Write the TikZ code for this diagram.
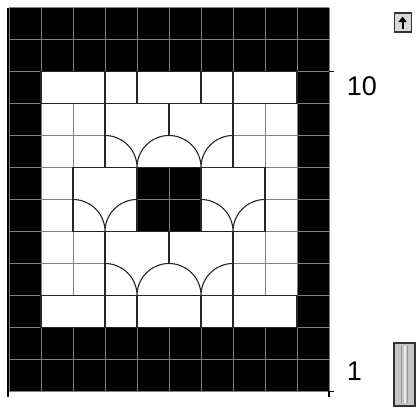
\documentclass[tikz,border=0pt]{standalone}
\usepackage{fontspec}
\setmainfont{Liberation Sans}
\usetikzlibrary{arrows.meta, positioning}

\begin{document}
\begin{tikzpicture}[
        x=32pt,
        y=-32pt,
        gridLine/.style={
            draw=gray,
            line width=0.9pt
        },
        wallLine/.style={
            draw=black!85,
            line width=1.2pt
        },
        archLine/.style={
            draw=black!85,
            line width=1.1pt
        },
        axisLine/.style={
            draw=black,
            line width=1.1pt
        },
        rowLabel/.style={
            font=\fontsize{27}{27}\selectfont,
            inner sep=0pt,
            anchor=west
        },
        upKeyBox/.style={
            draw=black!80,
            fill=gray!30,
            line width=1.2pt,
            minimum width=17pt,
            minimum height=19pt,
            inner sep=0pt
        },
        sliderBox/.style={
            draw=black!80,
            fill=gray!45,
            line width=1.2pt,
            minimum width=21pt,
            minimum height=63pt,
            inner sep=0pt
        }
    ]

        % Fixed page size
        \useasboundingbox (-0.28125,-0.234375) rectangle (12.75,12.578125);

        % Black cells
        \fill (0,0) rectangle (10,2);
        \fill (0,10) rectangle (10,12);
        \fill (0,2) rectangle (1,10);
        \fill (9,2) rectangle (10,10);
        \fill (4,5) rectangle (6,7);

        % Grid lines over the frame
        \foreach \c in {0,...,10}
        {
            \draw[gridLine] (\c,0) -- (\c,2);
            \draw[gridLine] (\c,10) -- (\c,12);
        }
        \foreach \r in {0,...,12}
        {
            \draw[gridLine] (0,\r) -- (1,\r);
            \draw[gridLine] (9,\r) -- (10,\r);
        }
        \foreach \r in {0,1,2,10,11,12}
            \draw[gridLine] (1,\r) -- (9,\r);
        \draw[gridLine] (0,0) -- (0,12);
        \draw[gridLine] (1,2) -- (1,10);
        \draw[gridLine] (9,2) -- (9,10);
        \draw[gridLine] (10,0) -- (10,12);

        % Grid lines in the centre block
        \draw[gridLine] (5,5) -- (5,7);
        \draw[gridLine] (4,6) -- (6,6);

        % Light lines in the side strips
        \foreach \c in {2,8}
        {
            \draw[gridLine] (\c,3) -- (\c,5);
            \draw[gridLine] (\c,7) -- (\c,9);
        }
        \foreach \r in {5,6,7}
        {
            \draw[gridLine] (1,\r) -- (2,\r);
            \draw[gridLine] (8,\r) -- (9,\r);
        }
        \draw[gridLine] (1,4) -- (3,4);
        \draw[gridLine] (1,8) -- (3,8);
        \draw[gridLine] (7,4) -- (9,4);
        \draw[gridLine] (7,8) -- (9,8);

        % Region borders
        \draw[wallLine] (1,2) rectangle (9,3);
        \draw[wallLine] (1,9) rectangle (9,10);
        \foreach \c in {3,4,6,7}
        {
            \draw[wallLine] (\c,2) -- (\c,3);
            \draw[wallLine] (\c,9) -- (\c,10);
        }
        \foreach \c in {3,7}
        {
            \draw[wallLine] (\c,3) -- (\c,5);
            \draw[wallLine] (\c,7) -- (\c,9);
        }
        \draw[wallLine] (5,3) -- (5,4);
        \draw[wallLine] (5,7) -- (5,8);
        \draw[wallLine] (2,5) rectangle (8,7);
        \draw[wallLine] (4,5) -- (4,7);
        \draw[wallLine] (6,5) -- (6,7);

        % Domed arches
        \foreach \r in {4,8}
        {
            \draw[archLine] (3,\r)
                arc[start angle=-90, end angle=0, radius=1]
                arc[start angle=180, end angle=360, radius=1]
                arc[start angle=180, end angle=270, radius=1];
        }
        \foreach \c in {2,6}
        {
            \draw[archLine] (\c,6)
                arc[start angle=-90, end angle=0, radius=1]
                arc[start angle=180, end angle=270, radius=1];
        }

        % Axis lines and ticks
        \coordinate (axisTop) at (-0.03,0);
        \coordinate (axisFoot) at (-0.03,12.17);
        \draw[axisLine] (axisTop) -- (axisFoot);

        \coordinate (tickTen) at (10.17,2);
        \coordinate (tickOne) at (10.17,12);
        \coordinate (tickFoot) at (10,12.17);
        \draw[axisLine] (10,2) -- (tickTen);
        \draw[axisLine] (tickFoot) -- (10,12) -- (tickOne);

        % Row numbers
        \node[rowLabel] (rowTen) at (10.55,2.45) {10};
        \node[rowLabel] (rowOne) at (10.55,11.38) {1};

        % Scroll key and slider
        \node[upKeyBox] (upKey) at (12.3,0.47) {};
        \draw[
            -{Triangle[length=5.5pt, width=8pt]},
            line width=2pt
        ]
        ([yshift=-6.5pt]upKey.center)
        --
        ([yshift=6pt]upKey.center);

        \node[sliderBox] (slider) at (12.36,11.47) {};
        \draw[gray!80, line width=1.2pt]
            ([xshift=-3pt, yshift=-4pt]slider.north)
            --
            ([xshift=-3pt, yshift=4pt]slider.south);
        \draw[white!85!gray, line width=2pt]
            ([yshift=-4pt]slider.north)
            --
            ([yshift=4pt]slider.south);
        \draw[gray!80, line width=1.2pt]
            ([xshift=3pt, yshift=-4pt]slider.north)
            --
            ([xshift=3pt, yshift=4pt]slider.south);

    \end{tikzpicture}
\end{document}
